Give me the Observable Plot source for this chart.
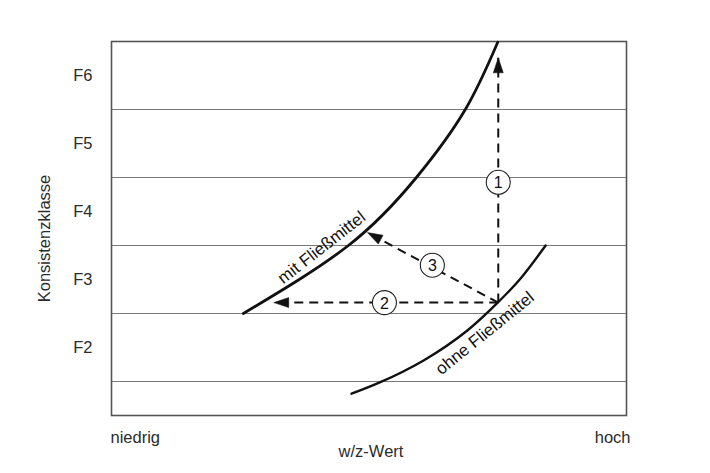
<!DOCTYPE html>
<html>
<head>
<meta charset="utf-8">
<script src="https://cdn.jsdelivr.net/npm/d3@7"></script>
<script src="https://cdn.jsdelivr.net/npm/@observablehq/plot@0.6"></script>
<style>
  html, body { margin: 0; padding: 0; background: #fff; }
</style>
</head>
<body>
<div id="chart"></div>
<script>
// Consistency classes (y axis)
const classValues = [2, 3, 4, 5, 6];
const classLabels = ["F2", "F3", "F4", "F5", "F6"];
const gridValues = [1.5, 2.5, 3.5, 4.5, 5.5];
const yTitle = "Konsistenzklasse";

// x axis end labels (w/z ratio, 0 = low, 100 = high)
const xEndValues = [0, 100];
const xEndLabels = ["niedrig", "hoch"];
const xTitle = "w/z-Wert";

// Curve "mit Fließmittel"
const mitX = [25.6, 46.0, 59.2, 68.7, 75.0];
const mitY = [2.50, 3.50, 4.50, 5.50, 6.49];
// Curve "ohne Fließmittel"
const ohneX = [46.6, 52.2, 60.6, 69.1, 75.0, 79.6, 84.3];
const ohneY = [1.32, 1.49, 1.81, 2.25, 2.66, 3.03, 3.50];

// Curve labels
const curveLabels = ["mit Fließmittel", "ohne Fließmittel"];
const curveLabelX = [40.8, 72.5];
const curveLabelY = [3.47, 2.21];
const curveLabelAngle = [-38, -39];

// Arrows (start at common point on "ohne" curve)
const arrowIds = ["1", "2", "3"];
const arrowX1 = [75.1, 75.1, 75.1];
const arrowY1 = [2.66, 2.66, 2.66];
const arrowX2 = [75.1, 31.5, 49.7];
const arrowY2 = [6.26, 2.66, 3.69];
// Numbered circles on the arrows
const circleX = [75.1, 53.0, 62.3];
const circleY = [4.43, 2.66, 3.21];

const W = 710, H = 473;
const mL = 111, mR = 84, mT = 41, mB = 58;
const xDomain = [0, 100], yDomain = [1, 6.5];

const mit = mitX.map((x, i) => ({x, y: mitY[i]}));
const ohne = ohneX.map((x, i) => ({x, y: ohneY[i]}));
const labelsData = curveLabels.map((t, i) => ({t, x: curveLabelX[i], y: curveLabelY[i], a: curveLabelAngle[i]}));

// pixel-space helpers for arrow head orientation
const px = d3.scaleLinear(xDomain, [mL, W - mR]);
const py = d3.scaleLinear(yDomain, [H - mB, mT]);
const arrows = arrowIds.map((id, i) => {
  const dx = px(arrowX2[i]) - px(arrowX1[i]);
  const dy = py(arrowY2[i]) - py(arrowY1[i]);
  return {id, x1: arrowX1[i], y1: arrowY1[i], x2: arrowX2[i], y2: arrowY2[i],
          rot: Math.atan2(dx, -dy) * 180 / Math.PI};
});
const circles = arrowIds.map((id, i) => ({id, x: circleX[i], y: circleY[i]}));

// filled arrowhead symbol, tip at origin pointing up
const headLen = 15, headW = 10;
const arrowHead = {
  draw(context) {
    context.moveTo(0, 0);
    context.lineTo(-headW / 2, headLen);
    context.lineTo(headW / 2, headLen);
    context.closePath();
  }
};

const ink = "#111";
const txt = "#2b2b2b";
const fs = 16.5;

const chart = Plot.plot({
  width: W,
  height: H,
  marginLeft: mL,
  marginRight: mR,
  marginTop: mT,
  marginBottom: mB,
  style: {fontFamily: "'Liberation Sans', Arial, sans-serif", fontSize: fs + "px", color: txt, background: "#fff"},
  x: {domain: xDomain, axis: null},
  y: {domain: yDomain, axis: null},
  marks: [
    Plot.ruleY(gridValues, {stroke: "#7a7a7a", strokeWidth: 1.2, strokeOpacity: 1}),
    Plot.frame({stroke: "#555", strokeWidth: 1.6}),
    Plot.axisY({ticks: classValues, tickFormat: d => classLabels[classValues.indexOf(d)], tickSize: 0, tickPadding: 19, label: null, fill: txt, fontSize: fs}),
    Plot.text([yTitle], {frameAnchor: "left", textAnchor: "middle", lineAnchor: "middle", dx: -67, dy: 10, rotate: -90, fill: txt, fontSize: fs}),
    Plot.text(xEndLabels.slice(0, 1), {x: xEndValues.slice(0, 1), frameAnchor: "bottom", lineAnchor: "middle", dy: 22, textAnchor: "start", dx: -1, fill: txt, fontSize: fs}),
    Plot.text(xEndLabels.slice(1), {x: xEndValues.slice(1), frameAnchor: "bottom", lineAnchor: "middle", dy: 22, textAnchor: "end", dx: 4, fill: txt, fontSize: fs}),
    Plot.text([xTitle], {frameAnchor: "bottom", lineAnchor: "middle", textAnchor: "middle", dy: 36, dx: 2, fill: txt, fontSize: fs}),
    Plot.line(mit, {x: "x", y: "y", curve: "natural", stroke: ink, strokeWidth: 2.8}),
    Plot.line(ohne, {x: "x", y: "y", curve: "natural", stroke: ink, strokeWidth: 2.4}),
    Plot.link(arrows, {x1: "x1", y1: "y1", x2: "x2", y2: "y2", stroke: ink, strokeWidth: 2, strokeDasharray: "9,6"}),
    Plot.dot(arrows, {x: "x2", y: "y2", symbol: arrowHead, rotate: "rot", fill: ink, stroke: ink, strokeWidth: 0.5}),
    Plot.dot(circles, {x: "x", y: "y", r: 12, fill: "white", stroke: "#222", strokeWidth: 1.1}),
    Plot.text(circles, {x: "x", y: "y", text: "id", fill: ink, fontSize: 16, dy: 1}),
    Plot.text(labelsData, {x: "x", y: "y", text: "t", rotate: "a", fill: ink, fontSize: 17})
  ]
});
document.getElementById("chart").appendChild(chart);
</script>
</body>
</html>
